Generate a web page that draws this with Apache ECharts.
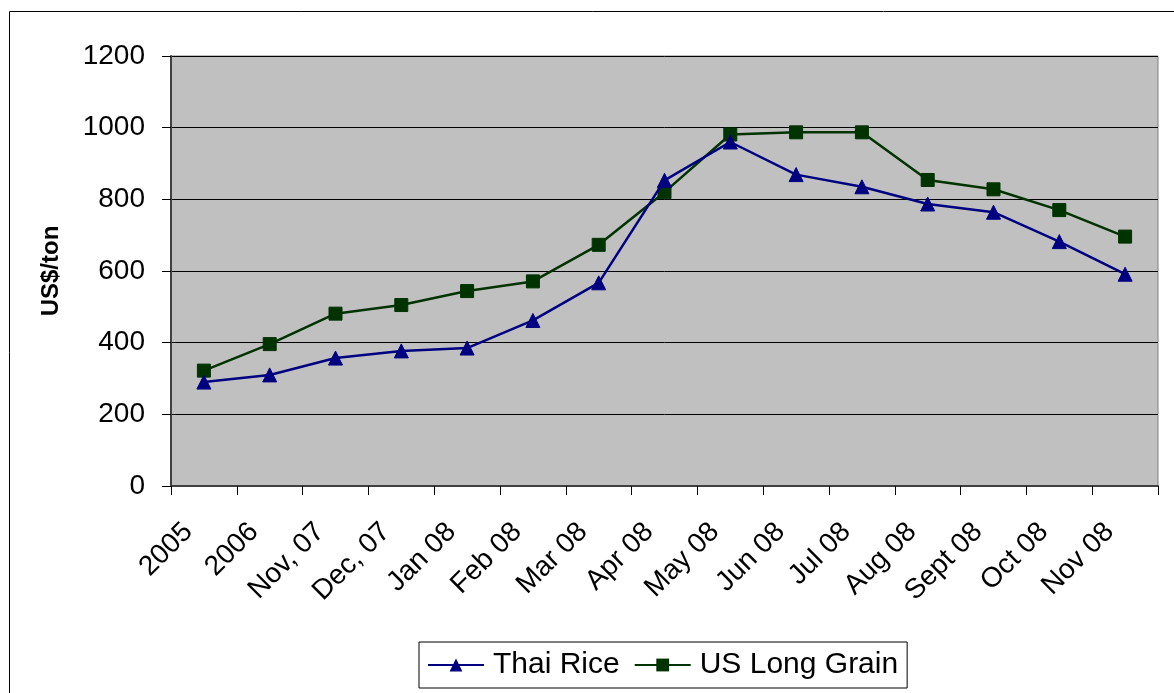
<!DOCTYPE html>
<html>
<head>
<meta charset="utf-8">
<script src="https://cdn.jsdelivr.net/npm/echarts@6/dist/echarts.min.js"></script>
<style>
html,body{margin:0;padding:0;background:#fff;}
#chart{width:1174px;height:693px;}
</style>
</head>
<body>
<div id="chart"></div>
<script>
const categories = ['2005','2006','Nov, 07','Dec, 07','Jan 08','Feb 08','Mar 08','Apr 08','May 08','Jun 08','Jul 08','Aug 08','Sept 08','Oct 08','Nov 08'];
const thaiRice = [290, 310, 357, 377, 385, 462, 567, 853, 960, 869, 835, 787, 764, 682, 591];
const usLongGrain = [322, 396, 481, 505, 544, 571, 673, 820, 981, 987, 987, 854, 828, 770, 696];
const yTicks = [0, 200, 400, 600, 800, 1000, 1200];

const chart = echarts.init(document.getElementById('chart'));
const font = 'Liberation Sans, Arial, sans-serif';
chart.setOption({
  animation: false,
  textStyle: { fontFamily: font },
  graphic: [{
    type: 'rect', left: 7, top: 9, silent: true,
    shape: { x: 0, y: 0, width: 1200, height: 720 },
    style: { fill: 'none', stroke: '#000', lineWidth: 1 }
  }],
  grid: {
    left: 171, top: 56, right: 16, bottom: 207,
    show: true, backgroundColor: '#c0c0c0', borderColor: '#808080', borderWidth: 1
  },
  legend: {
    left: 419, top: 642,
    padding: [8, 9, 8, 8],
    borderColor: '#000', borderWidth: 1,
    itemWidth: 56, itemHeight: 16, itemGap: 14,
    textStyle: { fontSize: 30, color: '#000', fontFamily: font, padding: [0, 0, 0, 4] },
    data: ['Thai Rice', 'US Long Grain']
  },
  xAxis: {
    type: 'category',
    data: categories,
    boundaryGap: true,
    axisLine: { lineStyle: { color: '#404040', width: 2 } },
    axisTick: { show: true, length: 9, alignWithLabel: false, lineStyle: { color: '#000', width: 1 } },
    axisLabel: { rotate: 45, fontSize: 28, color: '#000', margin: 26, interval: 0, fontFamily: font,
      padding: [0, 22, 0, 0] },
    splitLine: { show: false }
  },
  yAxis: {
    type: 'value',
    min: 0, max: 1200, interval: 200,
    name: 'US$/ton',
    nameLocation: 'middle',
    nameGap: 108,
    nameTextStyle: { fontSize: 24, fontWeight: 'bold', color: '#000', fontFamily: font },
    axisLine: { show: true, lineStyle: { color: '#404040', width: 2 } },
    axisTick: { show: true, length: 9, lineStyle: { color: '#000', width: 1 } },
    axisLabel: { fontSize: 28, color: '#000', margin: 26, fontFamily: font,
      formatter: v => yTicks.includes(v) ? String(v) : '' },
    splitLine: { show: true, lineStyle: { color: '#000', width: 1 } }
  },
  series: [
    {
      name: 'Thai Rice', type: 'line', data: thaiRice,
      symbol: 'triangle', symbolSize: 14,
      lineStyle: { color: '#000080', width: 2.5 },
      itemStyle: { color: '#000080', borderColor: '#000080' },
      z: 3
    },
    {
      name: 'US Long Grain', type: 'line', data: usLongGrain,
      symbol: 'rect', symbolSize: 13,
      lineStyle: { color: '#003300', width: 2.5 },
      itemStyle: { color: '#003300', borderColor: '#003300' },
      z: 2
    }
  ]
});
</script>
</body>
</html>
